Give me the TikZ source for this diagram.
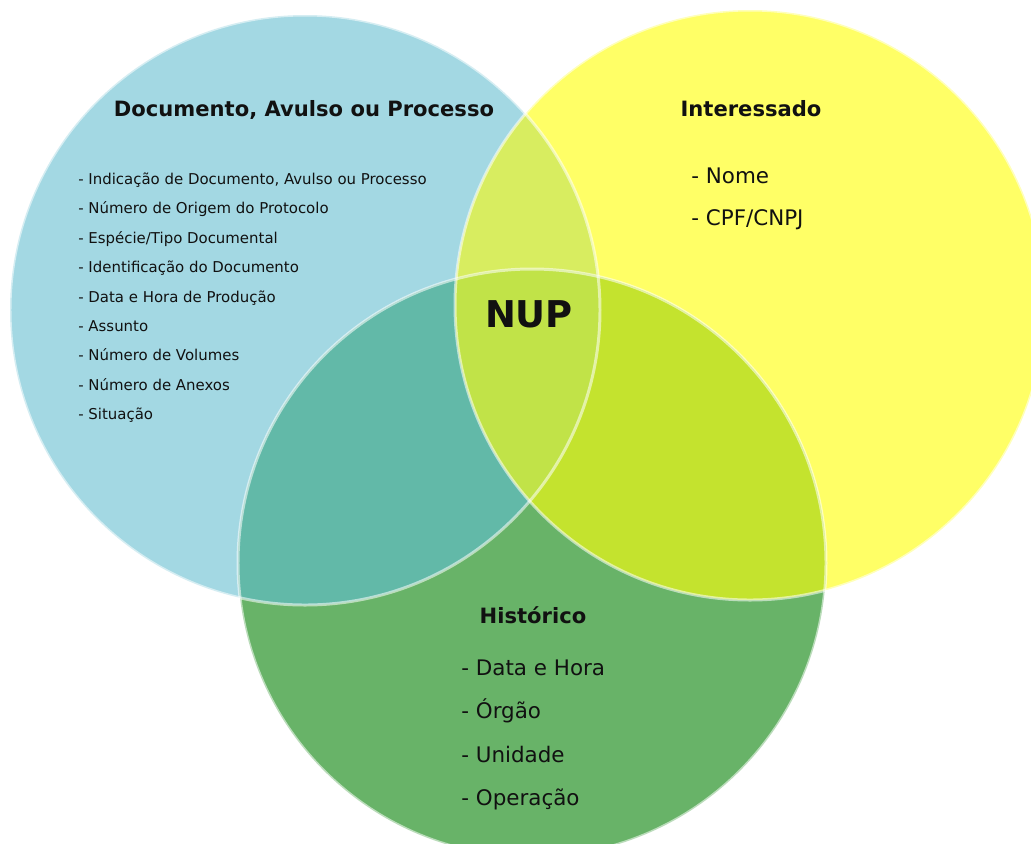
\documentclass[tikz,border=0pt]{standalone}
\usepackage{fontspec}
\setmainfont{DejaVu Sans}
\usetikzlibrary{positioning}

\definecolor{docblue}{HTML}{A3D8E3}
\definecolor{intyellow}{HTML}{FFFF66}
\definecolor{histgreen}{HTML}{68B368}
\definecolor{blueyellow}{HTML}{D8ED60}
\definecolor{bluegreen}{HTML}{62B9A8}
\definecolor{yellowgreen}{HTML}{C4E32E}
\definecolor{nupgreen}{HTML}{C1E348}
\definecolor{ink}{HTML}{111111}

\begin{document}
\begin{tikzpicture}[x=0.02cm, y=-0.02cm,
		rim/.style={draw=white, draw opacity=0.55, line width=1.7pt},
		settitle/.style={font=\bfseries\fontsize{12}{14}\selectfont, text=ink, text height=0.73em, text depth=0pt},
		smallitem/.style={anchor=west, inner sep=0pt, font=\fontsize{8.5}{10}\selectfont, text=ink, text height=0.73em, text depth=0pt},
		bigitem/.style={anchor=west, inner sep=0pt, font=\fontsize{12.2}{14}\selectfont, text=ink, text height=0.73em, text depth=0pt}]
				\useasboundingbox (0, 0) rectangle (1031, 843);
				% Centres of the three sets:
				\coordinate (B) at (305, 310);
				\coordinate (Y) at (750, 305);
				\coordinate (G) at (532, 563);
				% Plain discs:
				\fill[docblue] (B) circle[radius=295];
				\fill[intyellow] (Y) circle[radius=295];
				\fill[histgreen] (G) circle[radius=294];
				% Overlaps:
				\begin{scope}
					\clip (B) circle[radius=295];
					\fill[blueyellow] (Y) circle[radius=295];
					\fill[bluegreen] (G) circle[radius=294];
				\end{scope}
				\begin{scope}
					\clip (Y) circle[radius=295];
					\fill[yellowgreen] (G) circle[radius=294];
				\end{scope}
				\begin{scope}
					\clip (B) circle[radius=295];
					\clip (Y) circle[radius=295];
					\fill[nupgreen] (G) circle[radius=294];
				\end{scope}
				% Light rims:
				\foreach \c/\r in {B/295, Y/295, G/294}
					\draw[rim] (\c) circle[radius=\r];
				% Titles:
				\node[settitle] (doctitle) at (304, 110) {Documento, Avulso ou Processo};
				\node[settitle] (inttitle) at (751, 110) {Interessado};
				\node[settitle] (histtitle) at (533, 617) {Histórico};
				\node[settitle, font=\bfseries\fontsize{21}{24}\selectfont] (nup) at (529, 321) {NUP};
				% Items:
				\foreach \t [count=\i] in {{Indicação de Documento, Avulso ou Processo}, {Número de Origem do Protocolo},
					{Espécie/Tipo Documental}, {Identificação do Documento}, {Data e Hora de Produção}, {Assunto},
					{Número de Volumes}, {Número de Anexos}, {Situação}}
					\node[smallitem] (doc\i) at (78, 178+29.4*\i-29.4) {- \t};
				\node[bigitem] (int1) at (691, 177) {- Nome};
				\node[bigitem] (int2) at (691, 219) {- CPF/CNPJ};
				\foreach \t [count=\i] in {Data e Hora, Órgão, Unidade, Operação}
					\node[bigitem] (hist\i) at (461, 669+43.3*\i-43.3) {- \t};
			\end{tikzpicture}
\end{document}
